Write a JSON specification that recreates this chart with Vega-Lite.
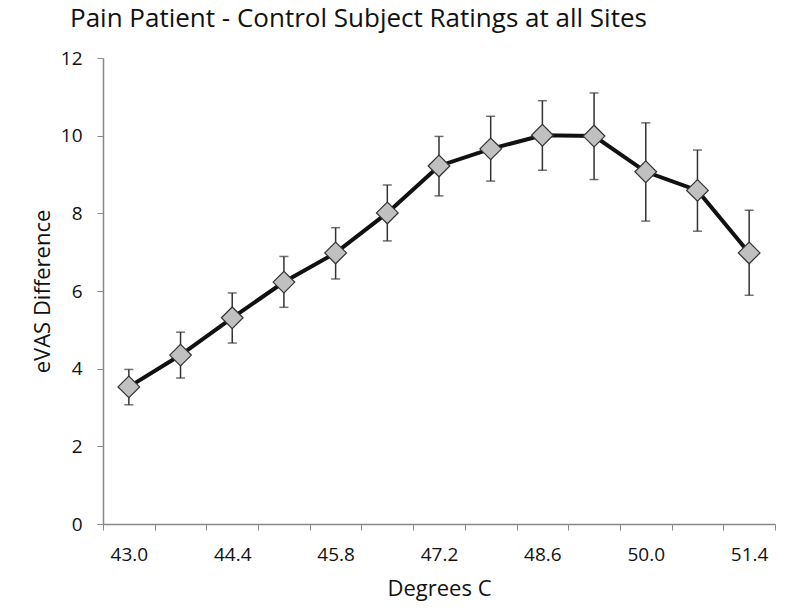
{
  "$schema": "https://vega.github.io/schema/vega-lite/v6.json",
  "autosize": {"type": "none"},
  "width": 672,
  "height": 466,
  "padding": {"left": 103, "top": 58, "right": 25, "bottom": 84},
  "background": "white",
  "title": {
    "text": "Pain Patient - Control Subject Ratings at all Sites",
    "anchor": "start",
    "frame": "group",
    "dx": -33,
    "offset": 17,
    "fontSize": 26,
    "font": "Open Sans",
    "fontWeight": "normal",
    "color": "#111"
  },
  "config": {
    "view": {"stroke": null},
    "font": "Open Sans"
  },
  "data": {
    "values": [
      {"t": "43.0", "v": 3.53, "lo": 3.07, "hi": 3.98},
      {"t": "43.7", "v": 4.35, "lo": 3.76, "hi": 4.94},
      {"t": "44.4", "v": 5.31, "lo": 4.66, "hi": 5.95},
      {"t": "45.1", "v": 6.23, "lo": 5.58, "hi": 6.89},
      {"t": "45.8", "v": 6.98, "lo": 6.31, "hi": 7.63},
      {"t": "46.5", "v": 8.01, "lo": 7.29, "hi": 8.73},
      {"t": "47.2", "v": 9.22, "lo": 8.45, "hi": 9.98},
      {"t": "47.9", "v": 9.66, "lo": 8.83, "hi": 10.5},
      {"t": "48.6", "v": 10.01, "lo": 9.11, "hi": 10.9},
      {"t": "49.3", "v": 9.99, "lo": 8.87, "hi": 11.1},
      {"t": "50.0", "v": 9.07, "lo": 7.8, "hi": 10.33},
      {"t": "50.7", "v": 8.59, "lo": 7.54, "hi": 9.63},
      {"t": "51.4", "v": 6.98, "lo": 5.89, "hi": 8.08}
    ]
  },
  "encoding": {
    "x": {
      "field": "t",
      "type": "ordinal",
      "sort": null,
      "scale": {"paddingInner": 0, "paddingOuter": 0},
      "axis": {
        "title": "Degrees C",
        "titleFontSize": 22,
        "titleFontWeight": "normal",
        "titleColor": "#111",
        "titlePadding": 14,
        "labelAngle": 0,
        "labelFontSize": 19,
        "labelColor": "#111",
        "labelPadding": 15,
        "labelExpr": "indexof(['43.0','44.4','45.8','47.2','48.6','50.0','51.4'], datum.value) >= 0 ? datum.label : ''",
        "tickBand": "extent",
        "tickSize": 6,
        "tickColor": "#888",
        "domainColor": "#888",
        "domainWidth": 1.5,
        "grid": false
      }
    }
  },
  "layer": [
    {
      "mark": {"type": "rule", "color": "#333", "strokeWidth": 1.5},
      "encoding": {
        "y": {"field": "lo", "type": "quantitative"},
        "y2": {"field": "hi"}
      }
    },
    {
      "mark": {"type": "tick", "color": "#333", "thickness": 1.5, "size": 9, "orient": "horizontal"},
      "encoding": {"y": {"field": "lo", "type": "quantitative"}}
    },
    {
      "mark": {"type": "tick", "color": "#333", "thickness": 1.5, "size": 9, "orient": "horizontal"},
      "encoding": {"y": {"field": "hi", "type": "quantitative"}}
    },
    {
      "mark": {"type": "line", "color": "#111", "strokeWidth": 4},
      "encoding": {"y": {"field": "v", "type": "quantitative"}}
    },
    {
      "mark": {"type": "point", "shape": "diamond", "filled": true, "fill": "#c0c0c0", "stroke": "#333", "strokeWidth": 1.2, "size": 470, "opacity": 1},
      "encoding": {
        "y": {
          "field": "v",
          "type": "quantitative",
          "scale": {"domain": [0, 12], "nice": false},
          "axis": {
            "title": "eVAS Difference",
            "titleFontSize": 22,
            "titleFontWeight": "normal",
            "titleColor": "#111",
            "titlePadding": 6,
            "values": [0, 2, 4, 6, 8, 10, 12],
            "labelFontSize": 19,
            "labelColor": "#111",
            "labelPadding": 15,
            "tickSize": 6,
            "tickColor": "#888",
            "domainColor": "#888",
            "domainWidth": 1.5,
            "grid": false
          }
        }
      }
    }
  ]
}
